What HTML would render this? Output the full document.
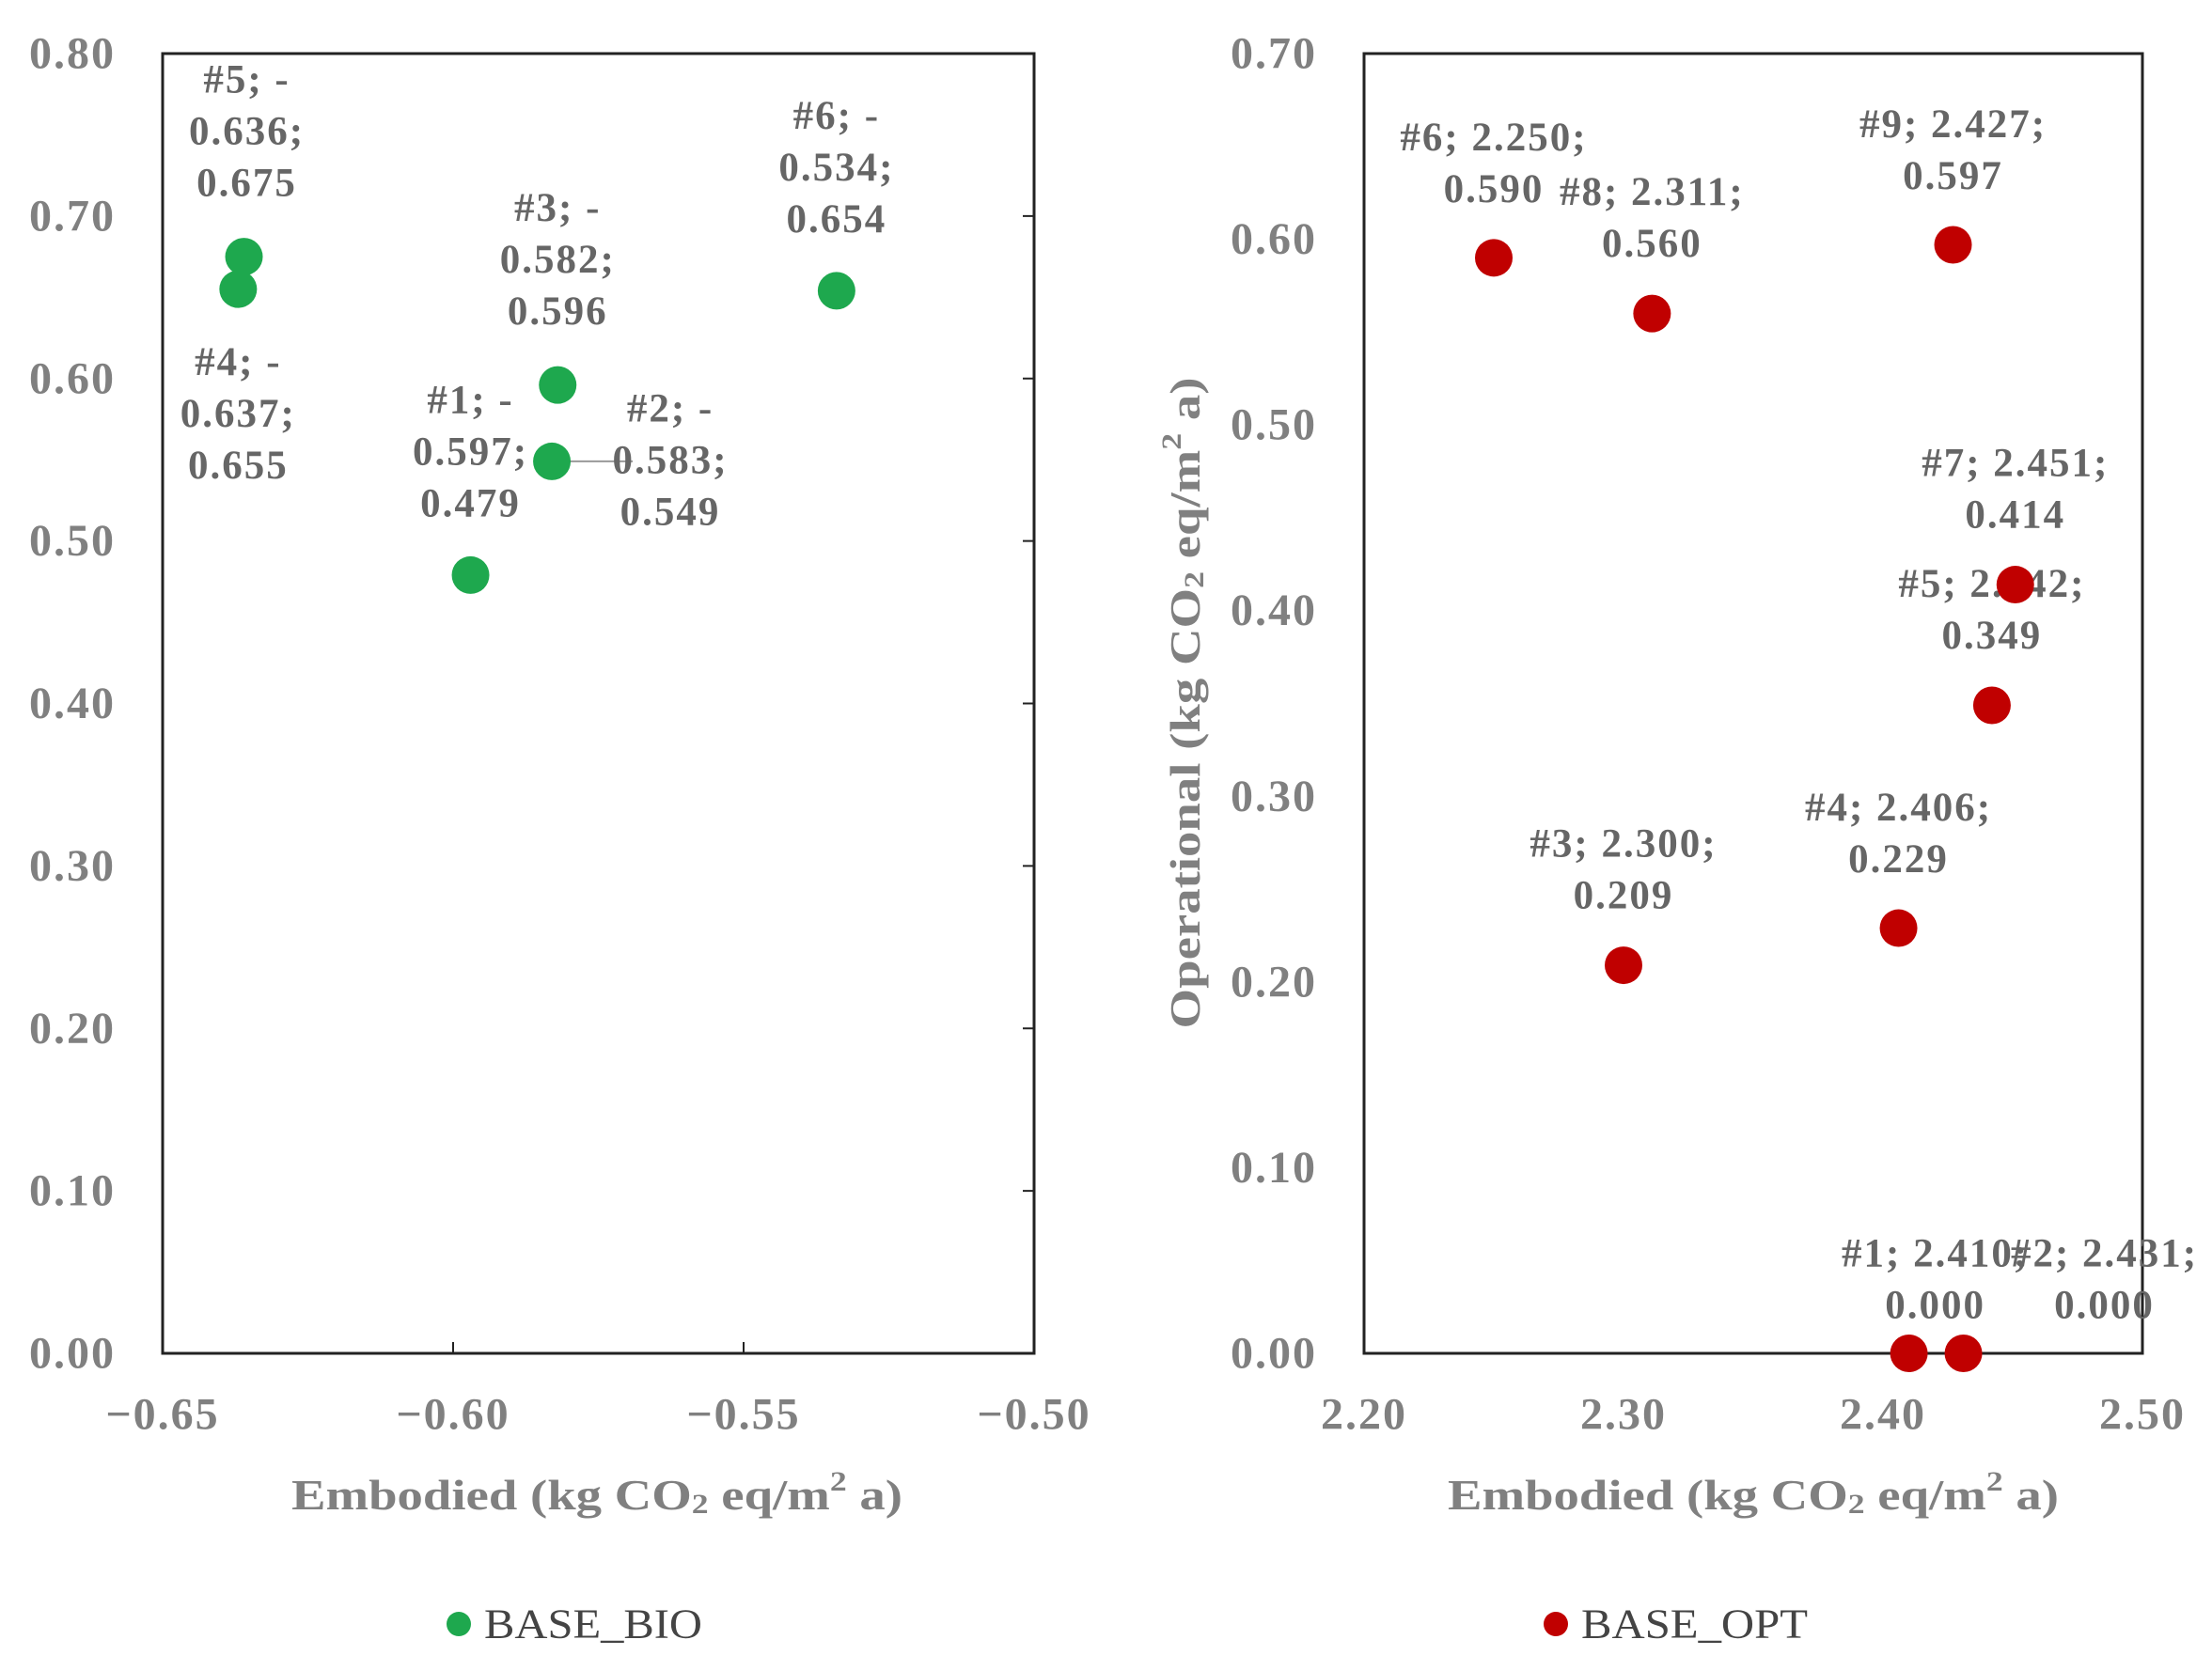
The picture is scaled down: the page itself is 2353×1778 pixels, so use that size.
<!DOCTYPE html>
<html><head><meta charset="utf-8"><style>
html,body{margin:0;padding:0;background:#fff;}
svg{display:block;}
text{font-family:"Liberation Serif",serif;font-weight:bold;}
</style></head><body>
<svg id="chart" width="2353" height="1778" viewBox="0 0 2353 1778">
<g id="left"></g>
<g id="right"></g>
</svg>
<script>
const bioIds = ['#1','#2','#3','#4','#5','#6'];
const bioX = [-0.597,-0.583,-0.582,-0.637,-0.636,-0.534];
const bioY = [0.479,0.549,0.596,0.655,0.675,0.654];
const bioXLabels = ['-0.597','-0.583','-0.582','-0.637','-0.636','-0.534'];
const bioYLabels = ['0.479','0.549','0.596','0.655','0.675','0.654'];
const bioXTicks = [-0.65,-0.60,-0.55,-0.50];
const bioXTickLabels = ['-0.65','-0.60','-0.55','-0.50'];
const bioYTicks = [0,0.1,0.2,0.3,0.4,0.5,0.6,0.7,0.8];
const bioYTickLabels = ['0.00','0.10','0.20','0.30','0.40','0.50','0.60','0.70','0.80'];

const optIds = ['#1','#2','#3','#4','#5','#6','#7','#8','#9'];
const optX = [2.410,2.431,2.300,2.406,2.442,2.250,2.451,2.311,2.427];
const optY = [0.000,0.000,0.209,0.229,0.349,0.590,0.414,0.560,0.597];
const optXLabels = ['2.410','2.431','2.300','2.406','2.442','2.250','2.451','2.311','2.427'];
const optYLabels = ['0.000','0.000','0.209','0.229','0.349','0.590','0.414','0.560','0.597'];
const optXTicks = [2.20,2.30,2.40,2.50];
const optXTickLabels = ['2.20','2.30','2.40','2.50'];
const optYTicks = [0,0.1,0.2,0.3,0.4,0.5,0.6,0.7];
const optYTickLabels = ['0.00','0.10','0.20','0.30','0.40','0.50','0.60','0.70'];

const NS='http://www.w3.org/2000/svg';
function mk(parent,tag,attrs,txt){const e=document.createElementNS(NS,tag);for(const k in attrs)e.setAttribute(k,attrs[k]);if(txt!==undefined)e.textContent=txt;parent.appendChild(e);return e;}
const TICK='#808080', LAB='#666666';

function titleText(g,x,y,len,rot){
  const t=mk(g,'text',{x:x,y:y,'text-anchor':'middle','dominant-baseline':'central','font-size':46,fill:TICK,textLength:len,lengthAdjust:'spacingAndGlyphs',transform:rot?`rotate(-90 ${x} ${y})`:''});
  
  
  const a=(s)=>{const ts=document.createElementNS(NS,'tspan');ts.textContent=s;t.appendChild(ts);return ts;};
  const pre=rot?'Operational':'Embodied';
  a(pre+' (kg CO');
  const s1=a('2');s1.setAttribute('font-size','30');s1.setAttribute('dy','10');
  const s2=a(' eq/m');s2.setAttribute('dy','-10');
  const s3=a('2');s3.setAttribute('font-size','30');s3.setAttribute('dy','-14');
  const s4=a(' a)');s4.setAttribute('dy','14');
}

function panel(g,cfg){
  const {x0,x1,y0,y1,xmin,xmax,ymin,ymax}=cfg;
  const sx=v=>x0+(v-xmin)/(xmax-xmin)*(x1-x0);
  const sy=v=>y1-(v-ymin)/(ymax-ymin)*(y1-y0);
  const fr=mk(g,'rect',{x:x0,y:y0,width:x1-x0,height:y1-y0,fill:'none',stroke:'#222',"stroke-width":3});
  
  
  cfg.yTicks.forEach((v,i)=>{
    const y=sy(v);
    if(cfg.rightTicks){const tk=mk(g,'line',{x1:x1,x2:x1-12,y1:y,y2:y,stroke:'#222','stroke-width':2});
      
      }
    const t=mk(g,'text',{x:cfg.yLabX,y:y,'text-anchor':'end','dominant-baseline':'central','font-size':48,fill:TICK,'letter-spacing':2},cfg.yTickLabels[i]);
    
    
  });
  cfg.xTicks.forEach((v,i)=>{
    const x=sx(v);
    if(cfg.rightTicks&&i>0&&i<cfg.xTicks.length-1){const tk=mk(g,'line',{x1:x,x2:x,y1:y1,y2:y1-12,stroke:'#222','stroke-width':2});
      
      }
    const t=mk(g,'text',{x:x,y:1505,'text-anchor':'middle','dominant-baseline':'central','font-size':48,fill:TICK,'letter-spacing':2},cfg.xTickLabels[i].replace('-','\u2212'));
    
    
  });
  cfg.X.forEach((xv,i)=>{
    const cx=sx(xv), cy=sy(cfg.Y[i]);
    const off=cfg.off[i];
    if(off[2]){const ln=mk(g,'line',{x1:cx,y1:cy,x2:cx+off[0]-40,y2:cy,stroke:'#999','stroke-width':2});
      
      }
    const c=mk(g,'circle',{cx:cx,cy:cy,r:20,fill:cfg.color});
    
    
    const lines=cfg.neg?[cfg.ids[i]+'; -',cfg.xl[i].slice(1)+';',cfg.yl[i]]:[cfg.ids[i]+'; '+cfg.xl[i]+';',cfg.yl[i]];
    const lg=mk(g,'g',{});
    
    
    lines.forEach((s,k)=>{
      mk(lg,'text',{x:cx+off[0],y:cy+off[1]+k*55,'text-anchor':'middle','dominant-baseline':'central','font-size':43,fill:LAB,'letter-spacing':2},s);
    });
  });
  titleText(g,cfg.xtX,1590,650,false);
  const lm=mk(g,'circle',{cx:cfg.legX,cy:1728,r:13,fill:cfg.color});
  
  
  const lt=mk(g,'text',{x:cfg.legX+27,y:1728,'dominant-baseline':'central','font-size':44,fill:'#444',textLength:cfg.legLen,lengthAdjust:'spacingAndGlyphs',style:'font-weight:normal'},cfg.legText);
  
  
  return {sx,sy};
}

panel(document.getElementById('left'),{
  x0:173,x1:1100,y0:57,y1:1440,xmin:-0.65,xmax:-0.50,ymin:0,ymax:0.8,
  xTicks:bioXTicks,xTickLabels:bioXTickLabels,yTicks:bioYTicks,yTickLabels:bioYTickLabels,
  yLabX:123,rightTicks:true,X:bioX,Y:bioY,ids:bioIds,xl:bioXLabels,yl:bioYLabels,neg:true,
  off:[[0,-186],[126,-56,1],[0,-188],[0,78],[3,-188],[0,-186]],
  color:'#1ea84e',xtX:635,legX:488,legText:'BASE_BIO',legLen:232
});
panel(document.getElementById('right'),{
  x0:1451,x1:2279,y0:57,y1:1440,xmin:2.20,xmax:2.50,ymin:0,ymax:0.7,
  xTicks:optXTicks,xTickLabels:optXTickLabels,yTicks:optYTicks,yTickLabels:optYTickLabels,
  yLabX:1401,rightTicks:false,X:optX,Y:optY,ids:optIds,xl:optXLabels,yl:optYLabels,neg:false,
  off:[[28,-106],[150,-106],[0,-129],[0,-128],[0,-129],[0,-128],[0,-129],[0,-129],[0,-128]],
  color:'#c00000',xtX:1865,legX:1655,legText:'BASE_OPT',legLen:241
});
titleText(document.getElementById('right'),1260,748,693,true);
</script>
</body></html>
